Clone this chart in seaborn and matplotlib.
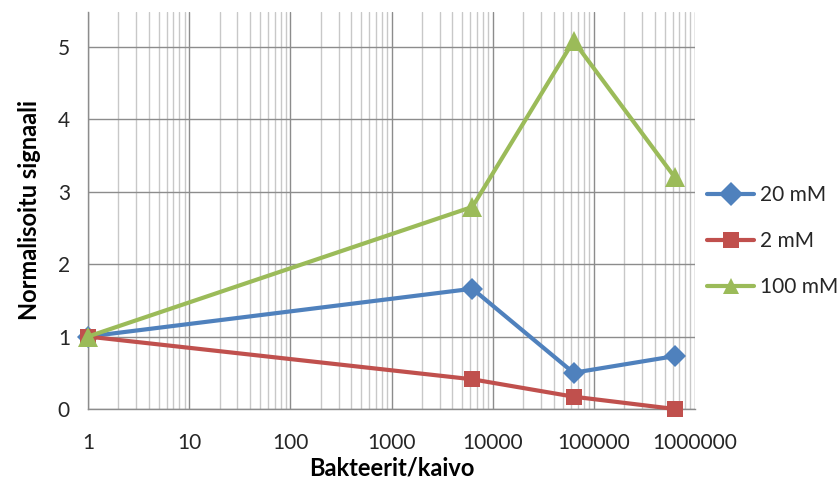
import numpy as np
import pandas as pd
import matplotlib
matplotlib.use("Agg")
import matplotlib.pyplot as plt
import seaborn as sns
from matplotlib.ticker import LogLocator, FixedLocator, FixedFormatter, NullFormatter

# Data
bacteria = [1, 6300, 63000, 630000]
s20 = [1.0, 1.66, 0.50, 0.73]
s2 = [1.0, 0.41, 0.17, 0.0]
s100 = [1.0, 2.79, 5.08, 3.20]
series_names = ["20 mM", "2 mM", "100 mM"]
xticks = [1, 10, 100, 1000, 10000, 100000, 1000000]
xticklabels = ["1", "10", "100", "1000", "10000", "100000", "1000000"]
yticks = [0, 1, 2, 3, 4, 5]

df = pd.DataFrame({
    "x": bacteria * 3,
    "y": s20 + s2 + s100,
    "series": [n for n in series_names for _ in bacteria],
})

sns.set_style("white")
plt.rcParams["font.family"] = ["Lato", "DejaVu Sans"]

fig = plt.figure(figsize=(8.38, 4.79), dpi=100)
ax = fig.add_axes([88/838, 1-409/479, (695-88)/838, (409-12)/479])

palette = {"20 mM": "#4F81BD", "2 mM": "#C0504D", "100 mM": "#9BBB59"}
markers = {"20 mM": "D", "2 mM": "s", "100 mM": "^"}
sizes_m = {"20 mM": 11, "2 mM": 12, "100 mM": 14}

sns.lineplot(data=df, x="x", y="y", hue="series", style="series",
             markers=markers, dashes=False, palette=palette,
             hue_order=series_names, style_order=series_names,
             linewidth=3, markersize=12, markeredgewidth=0, ax=ax, zorder=5)
for line in ax.get_lines():
    line.set_clip_on(False)
for line, n in zip(ax.get_lines(), series_names):
    line.set_markersize(sizes_m[n])

ax.set_xscale("log")
ax.set_xlim(1, 1000000)
ax.set_ylim(0, 5.48)

ax.xaxis.set_major_locator(FixedLocator(xticks))
ax.xaxis.set_major_formatter(FixedFormatter(xticklabels))
ax.xaxis.set_minor_locator(LogLocator(base=10, subs=np.arange(2, 10), numticks=20))
ax.xaxis.set_minor_formatter(NullFormatter())
ax.set_yticks(yticks)
ax.set_yticklabels([str(v) for v in yticks])

ax.grid(True, which="major", axis="both", color="#8c8c8c", linewidth=1)
ax.grid(True, which="minor", axis="x", color="#c8c8c8", linewidth=1)
ax.set_axisbelow(True)

for s in ["top", "right"]:
    ax.spines[s].set_visible(False)
for s in ["left", "bottom"]:
    ax.spines[s].set_color("#8c8c8c")
    ax.spines[s].set_linewidth(1)

ax.tick_params(axis="both", which="major", direction="out", length=7,
               color="#8c8c8c", labelsize=15, labelcolor="#262626")
ax.tick_params(axis="x", which="minor", length=0)
ax.tick_params(axis="x", which="major", pad=10)
ax.tick_params(axis="y", which="major", pad=6)

ax.set_xlabel("Bakteerit/kaivo", fontsize=17, fontweight="bold", color="#000000", labelpad=3)
ax.set_ylabel("Normalisoitu signaali", fontsize=17, fontweight="bold", color="#000000", labelpad=12)

handles, labels = ax.get_legend_handles_labels()
leg = ax.legend(handles, labels, loc="center left", bbox_to_anchor=(0.995, 0.423),
                frameon=False, fontsize=15, handlelength=2.3, labelspacing=1.25,
                handletextpad=0.25, borderaxespad=0.3)
for h in leg.legend_handles:
    h.set_linewidth(3)

fig.savefig("out.png", dpi=100)
